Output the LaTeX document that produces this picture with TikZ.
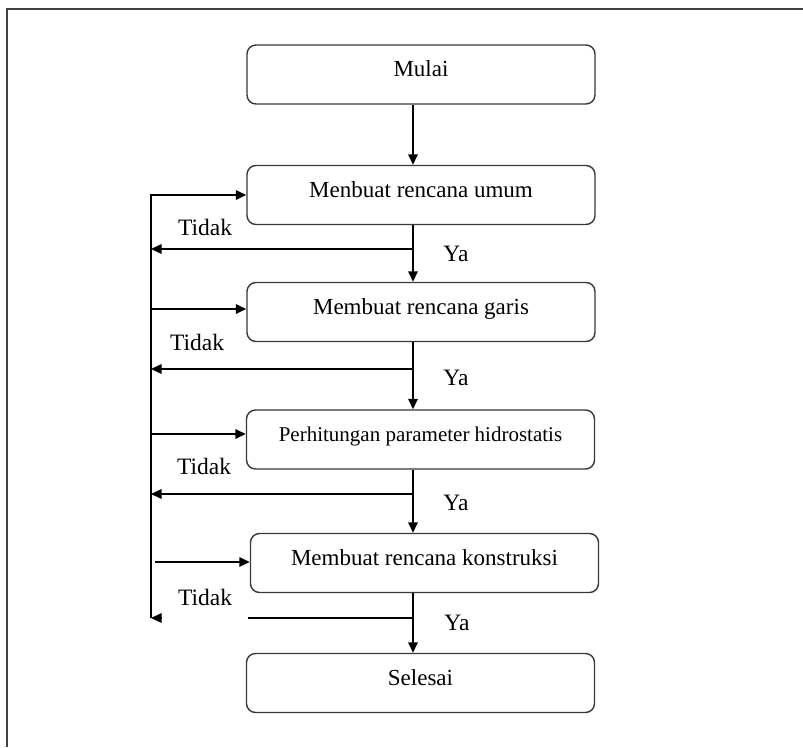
\documentclass[tikz,border=0pt]{standalone}
\usepackage{fontspec}
\setmainfont{Liberation Serif}
\usetikzlibrary{arrows.meta}
\begin{document}
\begin{tikzpicture}[x=1pt,y=-1pt,
  stage/.style={draw=black!78, line width=1.4pt, rounded corners=9pt,
    minimum width=348pt, minimum height=59pt, inner sep=0pt,
    text height=16pt, text depth=12pt, font=\fontsize{23}{26}\selectfont},
  flow/.style={line width=1.5pt, -{Triangle[length=10.5pt,width=9.5pt]}},
  link/.style={line width=1.5pt},
  lbl/.style={font=\fontsize{23.5}{26}\selectfont, anchor=base, inner sep=0pt}]
\useasboundingbox (0,0) rectangle (803,747);
% open frame
\draw[line width=2pt, draw=black!75] (7,747) -- (7,9) -- (803,9);

% process steps
\node[stage] (mulai)   at (421,74.5)  {Mulai};
\node[stage] (umum)    at (421,195)   {Menbuat rencana umum};
\node[stage] (garis)   at (421,312)   {Membuat rencana garis};
\node[stage, font=\fontsize{21}{24}\selectfont] (hidro) at (420.5,439.5) {Perhitungan parameter hidrostatis};
\node[stage] (konst)   at (424.5,563) {Membuat rencana konstruksi};
\node[stage] (selesai) at (420.5,683) {Selesai};

% guide coordinates
\coordinate (spine) at (413,0);
\coordinate (loop)  at (151,0);
\coordinate (loopb) at (155,0);
\coordinate (ltop)  at (151,194);
\coordinate (t1) at (151,249);
\coordinate (t2) at (151,369);
\coordinate (t3) at (151,494);
\coordinate (t4) at (151,618);
\coordinate (gap)  at (248,618);
\coordinate (stub) at (161,618);
\coordinate (in1) at (umum.west);
\coordinate (in2) at ([yshift=3pt]garis.west);
\coordinate (in3) at ([yshift=5.5pt]hidro.west);
\coordinate (in4) at ([yshift=1pt]konst.west);

% main flow
\draw[flow] (mulai.south -| spine) -- (umum.north -| spine);
\draw[flow] (umum.south -| spine)  -- (garis.north -| spine);
\draw[flow] (garis.south -| spine) -- (hidro.north -| spine);
\draw[flow] (hidro.south -| spine) -- (konst.north -| spine);
\draw[flow] (konst.south -| spine) -- (selesai.north -| spine);

% "Tidak" returns
\draw[flow] (spine |- t1) -- (t1);
\draw[flow] (spine |- t2) -- (t2);
\draw[flow] (spine |- t3) -- (t3);
\draw[link] (spine |- t4) -- (gap);
\draw[flow] (stub) -- (t4);
\draw[link] (ltop) -- (t4);

% re-entry arrows
\draw[flow] (loop |- in1) -- (in1);
\draw[flow] (loop |- in2) -- (in2);
\draw[flow] (loop |- in3) -- (in3);
\draw[flow] (loopb |- in4) -- (in4);

% labels
\node[lbl] (ya1) at (456,261) {Ya};
\node[lbl] (ya2) at (456,385) {Ya};
\node[lbl] (ya3) at (456,510) {Ya};
\node[lbl] (ya4) at (457,630) {Ya};
\node[lbl] (td1) at (205,235) {Tidak};
\node[lbl] (td2) at (197,350) {Tidak};
\node[lbl] (td3) at (204,474) {Tidak};
\node[lbl] (td4) at (205,605) {Tidak};
\end{tikzpicture}
\end{document}
